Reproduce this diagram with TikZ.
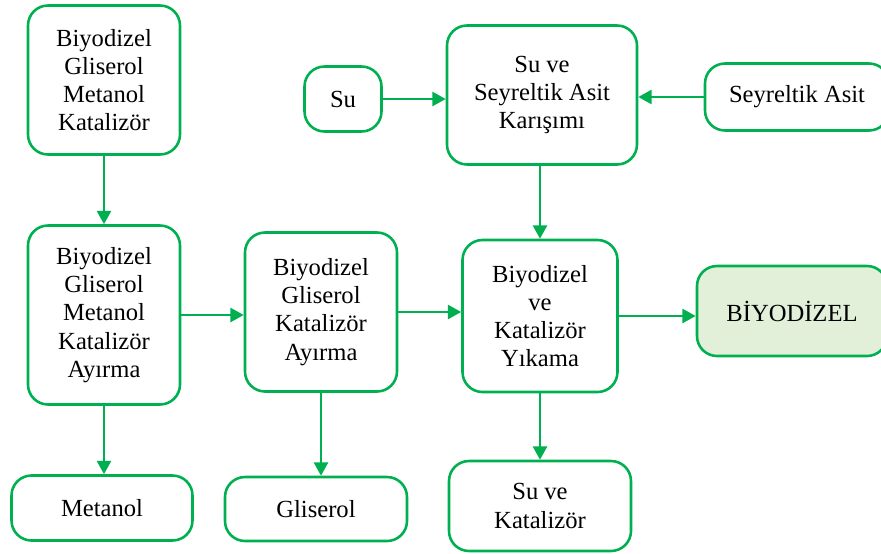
\documentclass[tikz,border=0pt]{standalone}
\usepackage{fontspec}
\setmainfont{Liberation Serif}
\usepackage{xcolor}
\usetikzlibrary{arrows.meta,positioning}
\definecolor{boxgreen}{HTML}{00B050}
\definecolor{boxfill}{HTML}{E2F0D9}

\begin{document}
\begin{tikzpicture}[font=\fontsize{21}{24}\selectfont,
  box/.style={rectangle, draw=boxgreen, line width=2.2pt, rounded corners=0.6cm, align=center, inner sep=0pt},
  flow/.style={draw=boxgreen, line width=2.2pt, -{Triangle[length=0.4cm,width=0.42cm]}}]

\useasboundingbox (0,0) rectangle (26.43,-16.59);

\node[box, minimum width=4.56cm, minimum height=4.47cm] (mix0) at (3.12,-2.40) {Biyodizel\\Gliserol\\Metanol\\Katalizör};
\node[box, minimum width=4.56cm, minimum height=5.37cm] (metsep) at (3.12,-9.45) {Biyodizel\\Gliserol\\Metanol\\Katalizör\\Ayırma};
\node[box, minimum width=4.56cm, minimum height=4.77cm] (glysep) at (9.63,-9.36) {Biyodizel\\Gliserol\\Katalizör\\Ayırma};
\node[box, minimum width=4.65cm, minimum height=4.56cm] (wash) at (16.2,-9.48) {Biyodizel\\ve\\Katalizör\\Yıkama};
\node[box, fill=boxfill, minimum width=5.7cm, minimum height=2.7cm] (biod) at (23.76,-9.33) {BİYODİZEL};

\node[box, minimum width=5.7cm, minimum height=4.17cm] (acidmix) at (16.26,-2.85) {Su ve\\Seyreltik Asit\\Karışımı};
\node[box, minimum width=2.31cm, minimum height=1.95cm] (water) at (10.29,-2.97) {Su};
\node[box, minimum width=5.52cm, minimum height=2.01cm] (acid) at (23.91,-2.91) {Seyreltik Asit};

\node[box, minimum width=5.43cm, minimum height=1.95cm] (metout) at (3.06,-15.24) {Metanol};
\node[box, minimum width=5.46cm, minimum height=1.92cm] (glyout) at (9.48,-15.27) {Gliserol};
\node[box, minimum width=5.46cm, minimum height=2.7cm] (catout) at (16.2,-15.18) {Su ve\\Katalizör};

\draw[flow] (mix0.south) -- (metsep.north);
\draw[flow] (metsep.east) -- (metsep.east -| glysep.west);
\draw[flow] (glysep.east) -- (glysep.east -| wash.west);
\draw[flow] (wash.east) -- (wash.east -| biod.west);

\draw[flow] (water.east) -- (water.east -| acidmix.west);
\draw[flow] (acid.west) -- (acid.west -| acidmix.east);
\draw[flow] (wash.north |- acidmix.south) -- (wash.north);

\draw[flow] (metsep.south) -- (metsep.south |- metout.north);
\draw[flow] (glysep.south) -- (glysep.south |- glyout.north);
\draw[flow] (wash.south) -- (catout.north);

\end{tikzpicture}
\end{document}
